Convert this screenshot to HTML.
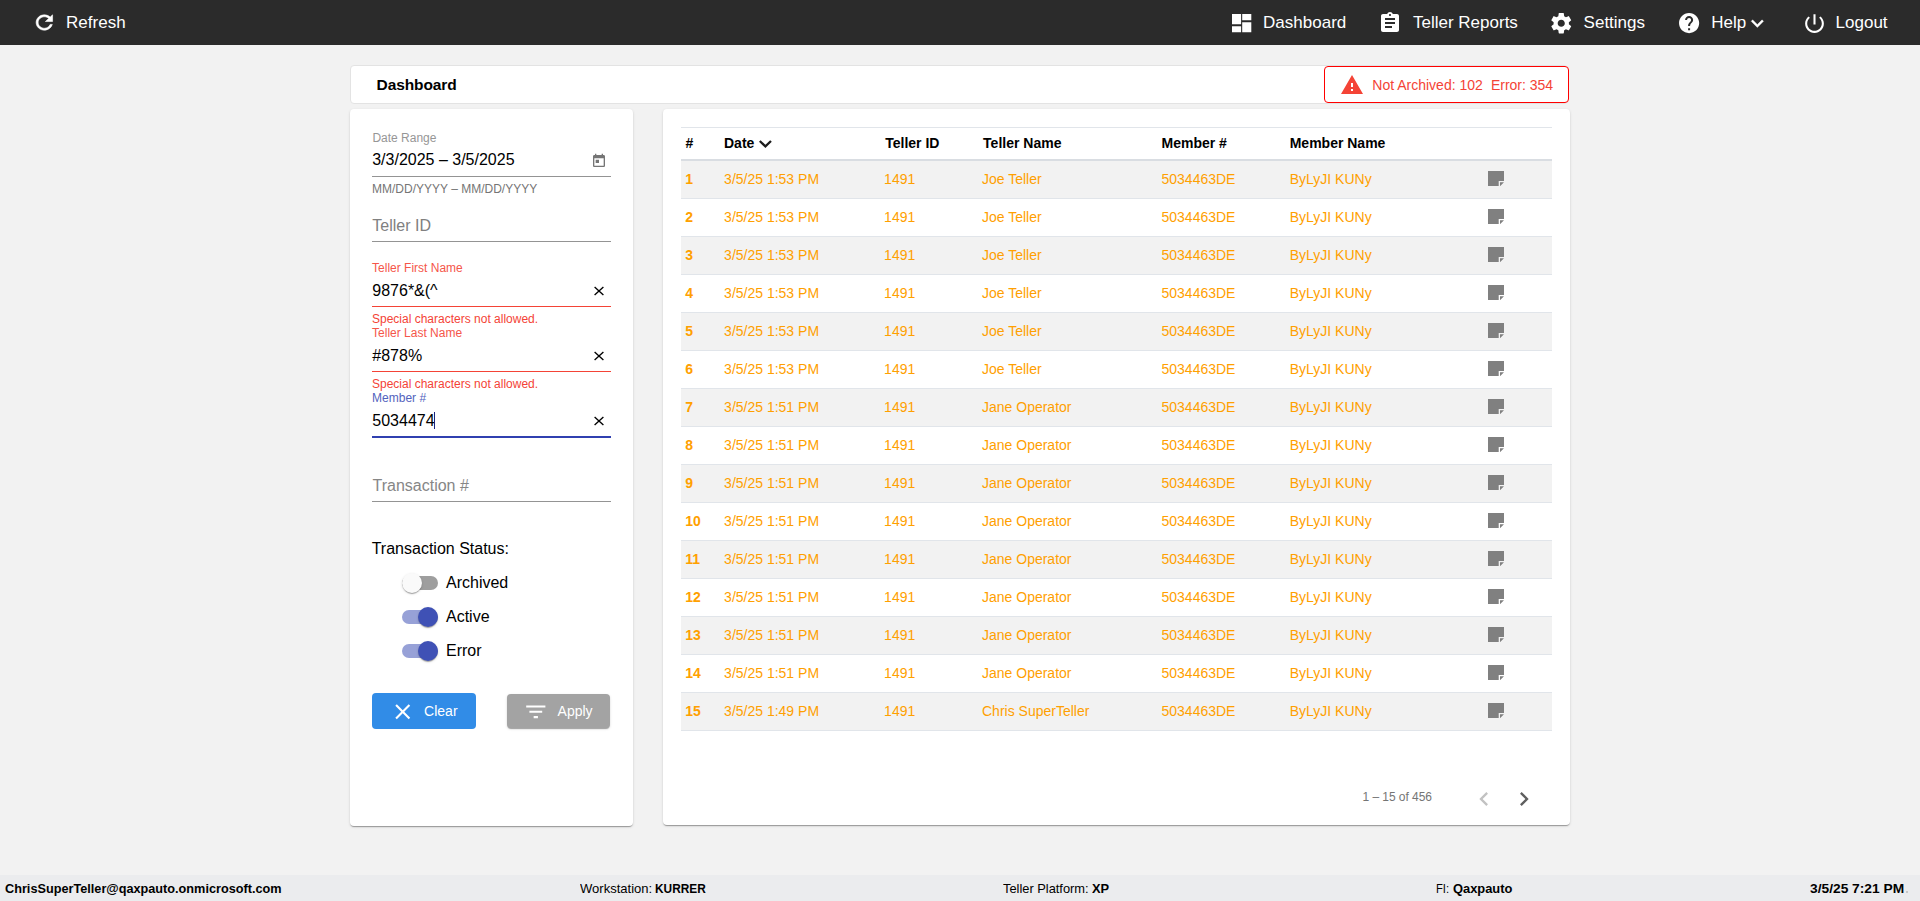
<!DOCTYPE html>
<html><head><meta charset="utf-8"><title>Dashboard</title>
<style>
html,body{margin:0;padding:0;}
body{width:1920px;height:901px;overflow:hidden;position:relative;background:#f2f2f2;font-family:"Liberation Sans", sans-serif;}
.t{position:absolute;white-space:pre;line-height:1;}
.i{position:absolute;display:block;}
.b{position:absolute;}
</style></head><body>
<div class="b" style="left:0;top:0;width:1920px;height:45px;background:#2b2b2b"></div>
<svg class="i" style="left:31.6px;top:11.15px;width:24.7px;height:23px" viewBox="0 0 24 24" preserveAspectRatio="none"><path fill="#fff" stroke="#fff" stroke-width="0.6" d="M17.65 6.35C16.2 4.9 14.21 4 12 4c-4.42 0-7.99 3.58-7.99 8s3.57 8 7.99 8c3.73 0 6.84-2.55 7.73-6h-2.08c-.82 2.33-3.04 4-5.65 4-3.31 0-6-2.69-6-6s2.69-6 6-6c1.66 0 3.14.69 4.22 1.78L13 11h7V4l-2.35 2.35z"/></svg>
<div class="t" style="left:66.10px;top:13.61px;font-size:17px;color:#ffffff;font-weight:400;">Refresh</div>
<svg class="i" style="left:1232px;top:13.7px;width:20px;height:19px" viewBox="0 0 20 19"><path fill="#fff" d="M0 0H9.1V10.3H0Z M0 12.2H9.1V18.3H0Z M10.2 0H19.3V6.2H10.2Z M10.2 8.2H19.3V18.3H10.2Z"/></svg>
<div class="t" style="left:1263.10px;top:13.61px;font-size:17px;color:#ffffff;font-weight:400;">Dashboard</div>
<svg class="i" style="left:1378.40px;top:10.70px;width:24.00px;height:24.00px;overflow:visible;" viewBox="0 0 24 24"><path fill="#ffffff" d="M19 3h-4.18C14.4 1.84 13.3 1 12 1c-1.3 0-2.4.84-2.82 2H5c-1.1 0-2 .9-2 2v14c0 1.1.9 2 2 2h14c1.1 0 2-.9 2-2V5c0-1.1-.9-2-2-2zm-7 0c.55 0 1 .45 1 1s-.45 1-1 1-1-.45-1-1 .45-1 1-1zm2 14H7v-2h7v2zm3-4H7v-2h10v2zm0-4H7V7h10v2z"/></svg>
<div class="t" style="left:1413.00px;top:13.61px;font-size:17px;color:#ffffff;font-weight:400;">Teller Reports</div>
<svg class="i" style="left:1549.20px;top:10.66px;width:24.50px;height:24.50px;overflow:visible;" viewBox="0 0 24 24"><path fill="#ffffff" d="M19.43 12.98c.04-.32.07-.64.07-.98s-.03-.66-.07-.98l2.11-1.65c.19-.15.24-.42.12-.64l-2-3.46c-.12-.22-.39-.3-.61-.22l-2.49 1c-.52-.4-1.08-.73-1.69-.98l-.38-2.65C14.460 2.18 14.25 2 14 2h-4c-.25 0-.46.18-.49.42l-.38 2.65c-.61.25-1.17.59-1.690.98l-2.49-1c-.23-.09-.49 0-.61.22l-2 3.46c-.13.22-.07.49.12.64l2.11 1.65c-.04.32-.07.65-.07.98s.03.66.07.98l-2.11 1.65c-.19.15-.24.42-.12.64l2 3.46c.12.22.39.3.61.22l2.49-1c.52.4 1.08.73 1.69.98l.38 2.65c.03.24.24.42.49.42h4c.25 0 .46-.18.49-.42l.38-2.65c.61-.25 1.17-.59 1.69-.98l2.49 1c.23.09.49 0 .61-.22l2-3.46c.12-.22.07-.49-.12-.64l-2.11-1.65zM12 15.5c-1.93 0-3.5-1.57-3.5-3.5s1.57-3.5 3.5-3.5 3.5 1.57 3.5 3.5-1.57 3.5-3.5 3.5z"/></svg>
<div class="t" style="left:1583.60px;top:13.61px;font-size:17px;color:#ffffff;font-weight:400;">Settings</div>
<svg class="i" style="left:1676.80px;top:10.90px;width:24.20px;height:24.20px;overflow:visible;" viewBox="0 0 24 24"><path fill="#ffffff" d="M12 2C6.48 2 2 6.48 2 12s4.48 10 10 10 10-4.48 10-10S17.52 2 12 2zm1 17h-2v-2h2v2zm2.07-7.75l-.9.92C13.45 12.9 13 13.5 13 15h-2v-.5c0-1.1.45-2.1 1.17-2.83l1.24-1.26c.37-.36.59-.86.59-1.41 0-1.1-.9-2-2-2s-2 .9-2 2H8c0-2.21 1.79-4 4-4s4 1.79 4 4c0 .88-.36 1.68-.93 2.25z"/></svg>
<div class="t" style="left:1711.30px;top:13.61px;font-size:17px;color:#ffffff;font-weight:400;">Help</div>
<svg class="i" style="left:1745.30px;top:11.00px;width:24.70px;height:24.70px;overflow:visible;" viewBox="0 0 24 24"><path fill="#ffffff" stroke="#ffffff" stroke-width="0.35" d="M16.59 8.59L12 13.17 7.41 8.59 6 10l6 6 6-6z"/></svg>
<svg class="i" style="left:1801.60px;top:10.60px;width:25.00px;height:25.00px;overflow:visible;" viewBox="0 0 24 24"><path fill="#ffffff" d="M13 3h-2v10h2V3zm4.83 2.17l-1.42 1.42C17.99 7.86 19 9.81 19 12c0 3.87-3.13 7-7 7s-7-3.13-7-7c0-2.19 1.01-4.140 2.58-5.42L6.17 5.17C4.23 6.82 3 9.26 3 12c0 4.97 4.03 9 9 9s9-4.03 9-9c0-2.74-1.23-5.18-3.17-6.83z"/></svg>
<div class="t" style="left:1835.60px;top:13.61px;font-size:17px;color:#ffffff;font-weight:400;">Logout</div>
<div class="b" style="left:350px;top:65px;width:1216px;height:37px;background:#fff;border:1px solid #e3e3e3;border-radius:4px"></div>
<div class="t" style="left:376.60px;top:77.28px;font-size:15.5px;color:#000;font-weight:700;letter-spacing:-0.1px;">Dashboard</div>
<div class="b" style="left:1324px;top:66px;width:243px;height:35px;background:#fff;border:1px solid #ff0000;border-radius:4px"></div>
<svg class="i" style="left:1340.00px;top:73.00px;width:24.00px;height:24.00px;overflow:visible;" viewBox="0 0 24 24"><path fill="#f44336" d="M1 21h22L12 2 1 21zm12-3h-2v-2h2v2zm0-4h-2v-4h2v4z"/></svg>
<div class="t" style="left:1372.30px;top:78.15px;font-size:14px;color:#f44336;font-weight:400;">Not Archived: 102</div>
<div class="t" style="left:1490.90px;top:78.15px;font-size:14px;color:#f44336;font-weight:400;">Error: 354</div>
<div class="b" style="left:350px;top:109px;width:283px;height:717px;background:#fff;border-radius:4px;box-shadow:0 2px 1px -1px rgba(0,0,0,.2),0 1px 1px 0 rgba(0,0,0,.14),0 1px 3px 0 rgba(0,0,0,.12)"></div>
<div class="b" style="left:663px;top:109px;width:907px;height:716px;background:#fff;border-radius:4px;box-shadow:0 2px 1px -1px rgba(0,0,0,.2),0 1px 1px 0 rgba(0,0,0,.14),0 1px 3px 0 rgba(0,0,0,.12)"></div>
<div class="t" style="left:372.40px;top:132.34px;font-size:12px;color:#969696;font-weight:400;">Date Range</div>
<div class="t" style="left:372.20px;top:152.26px;font-size:16px;color:#000;font-weight:400;">3/3/2025 – 3/5/2025</div>
<svg class="i" style="left:591.20px;top:152.90px;width:16.00px;height:16.00px;overflow:visible;" viewBox="0 0 24 24"><path fill="#757575" d="M19 3h-1V1h-2v2H8V1H6v2H5c-1.11 0-1.99.9-1.99 2L3 19c0 1.1.89 2 2 2h14c1.1 0 2-.9 2-2V5c0-1.1-.9-2-2-2zm0 16H5V8h14v11zM7 10h5v5H7z"/></svg>
<div class="b" style="left:372px;top:176px;width:239px;height:1px;background:#949494"></div>
<div class="t" style="left:372.00px;top:182.84px;font-size:12px;color:#757575;font-weight:400;">MM/DD/YYYY – MM/DD/YYYY</div>
<div class="t" style="left:372.30px;top:218.16px;font-size:16px;color:#808080;font-weight:400;">Teller ID</div>
<div class="b" style="left:372px;top:241px;width:239px;height:1px;background:#949494"></div>
<div class="t" style="left:372.10px;top:262.04px;font-size:12px;color:#f5564a;font-weight:400;">Teller First Name</div>
<div class="t" style="left:372.30px;top:283.16px;font-size:16px;color:#000;font-weight:400;">9876*&amp;(^</div>
<svg class="i" style="left:590.80px;top:282.90px;width:16px;height:16px" viewBox="0 0 16 16"><path d="M3.5999999999999996 4.0L12.4 12.0M12.4 4.0L3.5999999999999996 12.0" stroke="#000" stroke-width="1.35" fill="none"/></svg>
<div class="b" style="left:372px;top:306px;width:239px;height:1px;background:#f44336"></div>
<div class="t" style="left:372.00px;top:312.54px;font-size:12px;color:#f44336;font-weight:400;">Special characters not allowed.</div>
<div class="t" style="left:372.10px;top:327.04px;font-size:12px;color:#f5564a;font-weight:400;">Teller Last Name</div>
<div class="t" style="left:372.30px;top:348.26px;font-size:16px;color:#000;font-weight:400;">#878%</div>
<svg class="i" style="left:590.80px;top:347.90px;width:16px;height:16px" viewBox="0 0 16 16"><path d="M3.5999999999999996 4.0L12.4 12.0M12.4 4.0L3.5999999999999996 12.0" stroke="#000" stroke-width="1.35" fill="none"/></svg>
<div class="b" style="left:372px;top:371px;width:239px;height:1px;background:#f44336"></div>
<div class="t" style="left:372.00px;top:377.74px;font-size:12px;color:#f44336;font-weight:400;">Special characters not allowed.</div>
<div class="t" style="left:372.10px;top:392.34px;font-size:12px;color:#5363bd;font-weight:400;">Member #</div>
<div class="t" style="left:372.30px;top:413.26px;font-size:16px;color:#000;font-weight:400;">5034474</div>
<div class="b" style="left:434px;top:412px;width:1px;height:17px;background:#1a237e"></div>
<svg class="i" style="left:590.80px;top:413.10px;width:16px;height:16px" viewBox="0 0 16 16"><path d="M3.5999999999999996 4.0L12.4 12.0M12.4 4.0L3.5999999999999996 12.0" stroke="#000" stroke-width="1.35" fill="none"/></svg>
<div class="b" style="left:372px;top:436px;width:239px;height:2px;background:#3040b0"></div>
<div class="t" style="left:372.50px;top:478.46px;font-size:16px;color:#868686;font-weight:400;">Transaction #</div>
<div class="b" style="left:372px;top:501px;width:239px;height:1px;background:#949494"></div>
<div class="t" style="left:371.70px;top:540.56px;font-size:16px;color:#000;font-weight:400;">Transaction Status:</div>
<div class="b" style="left:402px;top:576px;width:36px;height:14px;border-radius:7px;background:rgba(0,0,0,.38)"></div>
<div class="b" style="left:402px;top:573px;width:20px;height:20px;border-radius:50%;background:#fafafa;box-shadow:0 2px 1px -1px rgba(0,0,0,.2),0 1px 1px 0 rgba(0,0,0,.14),0 1px 3px 0 rgba(0,0,0,.12)"></div>
<div class="t" style="left:446.00px;top:575.36px;font-size:16px;color:#000;font-weight:400;">Archived</div>
<div class="b" style="left:402px;top:610px;width:36px;height:14px;border-radius:7px;background:rgba(63,81,181,.54)"></div>
<div class="b" style="left:418px;top:607px;width:20px;height:20px;border-radius:50%;background:#3f51b5;box-shadow:0 2px 1px -1px rgba(0,0,0,.2),0 1px 1px 0 rgba(0,0,0,.14),0 1px 3px 0 rgba(0,0,0,.12)"></div>
<div class="t" style="left:446.00px;top:609.36px;font-size:16px;color:#000;font-weight:400;">Active</div>
<div class="b" style="left:402px;top:644px;width:36px;height:14px;border-radius:7px;background:rgba(63,81,181,.54)"></div>
<div class="b" style="left:418px;top:641px;width:20px;height:20px;border-radius:50%;background:#3f51b5;box-shadow:0 2px 1px -1px rgba(0,0,0,.2),0 1px 1px 0 rgba(0,0,0,.14),0 1px 3px 0 rgba(0,0,0,.12)"></div>
<div class="t" style="left:446.00px;top:643.36px;font-size:16px;color:#000;font-weight:400;">Error</div>
<div class="b" style="left:372px;top:693px;width:104px;height:36px;background:#318ce7;border-radius:4px"></div>
<svg class="i" style="left:390.00px;top:699.00px;width:25.50px;height:25.50px;overflow:visible;" viewBox="0 0 24 24"><path fill="#fff" d="M19 6.41L17.59 5 12 10.59 6.41 5 5 6.41 10.59 12 5 17.59 6.41 19 12 13.41 17.59 19 19 17.59 13.41 12z"/></svg>
<div class="t" style="left:424.10px;top:704.15px;font-size:14px;color:#fff;font-weight:400;">Clear</div>
<div class="b" style="left:507px;top:694px;width:103px;height:34px;background:#a3a3a3;border-radius:4px;box-shadow:0 2px 1px -1px rgba(0,0,0,.2),0 1px 1px 0 rgba(0,0,0,.14),0 1px 3px 0 rgba(0,0,0,.12)"></div>
<svg class="i" style="left:522.80px;top:698.90px;width:25.60px;height:25.60px;overflow:visible;" viewBox="0 0 24 24"><path fill="#fff" d="M10 18h4v-2h-4v2zM3 6v2h18V6H3zm3 7h12v-2H6v2z"/></svg>
<div class="t" style="left:557.60px;top:704.15px;font-size:14px;color:#fff;font-weight:400;">Apply</div>
<div class="b" style="left:681px;top:127px;width:871px;height:1px;background:#e1e5ea"></div>
<div class="t" style="left:685.40px;top:136.15px;font-size:14px;color:#000;font-weight:700;">#</div>
<div class="t" style="left:724.00px;top:136.15px;font-size:14px;color:#000;font-weight:700;">Date</div>
<svg class="i" style="left:757px;top:136px;width:17px;height:16px" viewBox="0 0 17 16"><path d="M2.8 5.0 L8.4 10.4 L14.0 5.0" fill="none" stroke="#1c1c1c" stroke-width="2.3"/></svg>
<div class="t" style="left:885.20px;top:136.15px;font-size:14px;color:#000;font-weight:700;">Teller ID</div>
<div class="t" style="left:983.10px;top:136.15px;font-size:14px;color:#000;font-weight:700;">Teller Name</div>
<div class="t" style="left:1161.50px;top:136.15px;font-size:14px;color:#000;font-weight:700;">Member #</div>
<div class="t" style="left:1289.70px;top:136.15px;font-size:14px;color:#000;font-weight:700;">Member Name</div>
<div class="b" style="left:681px;top:159px;width:871px;height:2px;background:#d9dde2"></div>
<div class="b" style="left:681px;top:161px;width:871px;height:37px;background:#f2f2f2;border-bottom:1px solid #e1e5ea"></div>
<div class="t" style="left:685.20px;top:172.15px;font-size:14px;color:#ffa000;font-weight:700;">1</div>
<div class="t" style="left:724.10px;top:172.15px;font-size:14px;color:#ffa000;font-weight:400;">3/5/25 1:53 PM</div>
<div class="t" style="left:884.10px;top:172.15px;font-size:14px;color:#ffa000;font-weight:400;">1491</div>
<div class="t" style="left:982.00px;top:172.15px;font-size:14px;color:#ffa000;font-weight:400;">Joe Teller</div>
<div class="t" style="left:1161.50px;top:172.15px;font-size:14px;color:#ffa000;font-weight:400;">5034463DE</div>
<div class="t" style="left:1289.70px;top:172.15px;font-size:14px;color:#ffa000;font-weight:400;">ByLyJI KUNy</div>
<svg class="i" style="left:1488px;top:171px;width:16px;height:15px" viewBox="0 0 16 15"><path fill="#808080" d="M0 0H16V10H10.7V15H0Z M12 11.2H16L12 15.2Z"/></svg>
<div class="b" style="left:681px;top:199px;width:871px;height:37px;background:#ffffff;border-bottom:1px solid #e1e5ea"></div>
<div class="t" style="left:685.20px;top:210.15px;font-size:14px;color:#ffa000;font-weight:700;">2</div>
<div class="t" style="left:724.10px;top:210.15px;font-size:14px;color:#ffa000;font-weight:400;">3/5/25 1:53 PM</div>
<div class="t" style="left:884.10px;top:210.15px;font-size:14px;color:#ffa000;font-weight:400;">1491</div>
<div class="t" style="left:982.00px;top:210.15px;font-size:14px;color:#ffa000;font-weight:400;">Joe Teller</div>
<div class="t" style="left:1161.50px;top:210.15px;font-size:14px;color:#ffa000;font-weight:400;">5034463DE</div>
<div class="t" style="left:1289.70px;top:210.15px;font-size:14px;color:#ffa000;font-weight:400;">ByLyJI KUNy</div>
<svg class="i" style="left:1488px;top:209px;width:16px;height:15px" viewBox="0 0 16 15"><path fill="#808080" d="M0 0H16V10H10.7V15H0Z M12 11.2H16L12 15.2Z"/></svg>
<div class="b" style="left:681px;top:237px;width:871px;height:37px;background:#f2f2f2;border-bottom:1px solid #e1e5ea"></div>
<div class="t" style="left:685.20px;top:248.15px;font-size:14px;color:#ffa000;font-weight:700;">3</div>
<div class="t" style="left:724.10px;top:248.15px;font-size:14px;color:#ffa000;font-weight:400;">3/5/25 1:53 PM</div>
<div class="t" style="left:884.10px;top:248.15px;font-size:14px;color:#ffa000;font-weight:400;">1491</div>
<div class="t" style="left:982.00px;top:248.15px;font-size:14px;color:#ffa000;font-weight:400;">Joe Teller</div>
<div class="t" style="left:1161.50px;top:248.15px;font-size:14px;color:#ffa000;font-weight:400;">5034463DE</div>
<div class="t" style="left:1289.70px;top:248.15px;font-size:14px;color:#ffa000;font-weight:400;">ByLyJI KUNy</div>
<svg class="i" style="left:1488px;top:247px;width:16px;height:15px" viewBox="0 0 16 15"><path fill="#808080" d="M0 0H16V10H10.7V15H0Z M12 11.2H16L12 15.2Z"/></svg>
<div class="b" style="left:681px;top:275px;width:871px;height:37px;background:#ffffff;border-bottom:1px solid #e1e5ea"></div>
<div class="t" style="left:685.20px;top:286.15px;font-size:14px;color:#ffa000;font-weight:700;">4</div>
<div class="t" style="left:724.10px;top:286.15px;font-size:14px;color:#ffa000;font-weight:400;">3/5/25 1:53 PM</div>
<div class="t" style="left:884.10px;top:286.15px;font-size:14px;color:#ffa000;font-weight:400;">1491</div>
<div class="t" style="left:982.00px;top:286.15px;font-size:14px;color:#ffa000;font-weight:400;">Joe Teller</div>
<div class="t" style="left:1161.50px;top:286.15px;font-size:14px;color:#ffa000;font-weight:400;">5034463DE</div>
<div class="t" style="left:1289.70px;top:286.15px;font-size:14px;color:#ffa000;font-weight:400;">ByLyJI KUNy</div>
<svg class="i" style="left:1488px;top:285px;width:16px;height:15px" viewBox="0 0 16 15"><path fill="#808080" d="M0 0H16V10H10.7V15H0Z M12 11.2H16L12 15.2Z"/></svg>
<div class="b" style="left:681px;top:313px;width:871px;height:37px;background:#f2f2f2;border-bottom:1px solid #e1e5ea"></div>
<div class="t" style="left:685.20px;top:324.15px;font-size:14px;color:#ffa000;font-weight:700;">5</div>
<div class="t" style="left:724.10px;top:324.15px;font-size:14px;color:#ffa000;font-weight:400;">3/5/25 1:53 PM</div>
<div class="t" style="left:884.10px;top:324.15px;font-size:14px;color:#ffa000;font-weight:400;">1491</div>
<div class="t" style="left:982.00px;top:324.15px;font-size:14px;color:#ffa000;font-weight:400;">Joe Teller</div>
<div class="t" style="left:1161.50px;top:324.15px;font-size:14px;color:#ffa000;font-weight:400;">5034463DE</div>
<div class="t" style="left:1289.70px;top:324.15px;font-size:14px;color:#ffa000;font-weight:400;">ByLyJI KUNy</div>
<svg class="i" style="left:1488px;top:323px;width:16px;height:15px" viewBox="0 0 16 15"><path fill="#808080" d="M0 0H16V10H10.7V15H0Z M12 11.2H16L12 15.2Z"/></svg>
<div class="b" style="left:681px;top:351px;width:871px;height:37px;background:#ffffff;border-bottom:1px solid #e1e5ea"></div>
<div class="t" style="left:685.20px;top:362.15px;font-size:14px;color:#ffa000;font-weight:700;">6</div>
<div class="t" style="left:724.10px;top:362.15px;font-size:14px;color:#ffa000;font-weight:400;">3/5/25 1:53 PM</div>
<div class="t" style="left:884.10px;top:362.15px;font-size:14px;color:#ffa000;font-weight:400;">1491</div>
<div class="t" style="left:982.00px;top:362.15px;font-size:14px;color:#ffa000;font-weight:400;">Joe Teller</div>
<div class="t" style="left:1161.50px;top:362.15px;font-size:14px;color:#ffa000;font-weight:400;">5034463DE</div>
<div class="t" style="left:1289.70px;top:362.15px;font-size:14px;color:#ffa000;font-weight:400;">ByLyJI KUNy</div>
<svg class="i" style="left:1488px;top:361px;width:16px;height:15px" viewBox="0 0 16 15"><path fill="#808080" d="M0 0H16V10H10.7V15H0Z M12 11.2H16L12 15.2Z"/></svg>
<div class="b" style="left:681px;top:389px;width:871px;height:37px;background:#f2f2f2;border-bottom:1px solid #e1e5ea"></div>
<div class="t" style="left:685.20px;top:400.15px;font-size:14px;color:#ffa000;font-weight:700;">7</div>
<div class="t" style="left:724.10px;top:400.15px;font-size:14px;color:#ffa000;font-weight:400;">3/5/25 1:51 PM</div>
<div class="t" style="left:884.10px;top:400.15px;font-size:14px;color:#ffa000;font-weight:400;">1491</div>
<div class="t" style="left:982.00px;top:400.15px;font-size:14px;color:#ffa000;font-weight:400;">Jane Operator</div>
<div class="t" style="left:1161.50px;top:400.15px;font-size:14px;color:#ffa000;font-weight:400;">5034463DE</div>
<div class="t" style="left:1289.70px;top:400.15px;font-size:14px;color:#ffa000;font-weight:400;">ByLyJI KUNy</div>
<svg class="i" style="left:1488px;top:399px;width:16px;height:15px" viewBox="0 0 16 15"><path fill="#808080" d="M0 0H16V10H10.7V15H0Z M12 11.2H16L12 15.2Z"/></svg>
<div class="b" style="left:681px;top:427px;width:871px;height:37px;background:#ffffff;border-bottom:1px solid #e1e5ea"></div>
<div class="t" style="left:685.20px;top:438.15px;font-size:14px;color:#ffa000;font-weight:700;">8</div>
<div class="t" style="left:724.10px;top:438.15px;font-size:14px;color:#ffa000;font-weight:400;">3/5/25 1:51 PM</div>
<div class="t" style="left:884.10px;top:438.15px;font-size:14px;color:#ffa000;font-weight:400;">1491</div>
<div class="t" style="left:982.00px;top:438.15px;font-size:14px;color:#ffa000;font-weight:400;">Jane Operator</div>
<div class="t" style="left:1161.50px;top:438.15px;font-size:14px;color:#ffa000;font-weight:400;">5034463DE</div>
<div class="t" style="left:1289.70px;top:438.15px;font-size:14px;color:#ffa000;font-weight:400;">ByLyJI KUNy</div>
<svg class="i" style="left:1488px;top:437px;width:16px;height:15px" viewBox="0 0 16 15"><path fill="#808080" d="M0 0H16V10H10.7V15H0Z M12 11.2H16L12 15.2Z"/></svg>
<div class="b" style="left:681px;top:465px;width:871px;height:37px;background:#f2f2f2;border-bottom:1px solid #e1e5ea"></div>
<div class="t" style="left:685.20px;top:476.15px;font-size:14px;color:#ffa000;font-weight:700;">9</div>
<div class="t" style="left:724.10px;top:476.15px;font-size:14px;color:#ffa000;font-weight:400;">3/5/25 1:51 PM</div>
<div class="t" style="left:884.10px;top:476.15px;font-size:14px;color:#ffa000;font-weight:400;">1491</div>
<div class="t" style="left:982.00px;top:476.15px;font-size:14px;color:#ffa000;font-weight:400;">Jane Operator</div>
<div class="t" style="left:1161.50px;top:476.15px;font-size:14px;color:#ffa000;font-weight:400;">5034463DE</div>
<div class="t" style="left:1289.70px;top:476.15px;font-size:14px;color:#ffa000;font-weight:400;">ByLyJI KUNy</div>
<svg class="i" style="left:1488px;top:475px;width:16px;height:15px" viewBox="0 0 16 15"><path fill="#808080" d="M0 0H16V10H10.7V15H0Z M12 11.2H16L12 15.2Z"/></svg>
<div class="b" style="left:681px;top:503px;width:871px;height:37px;background:#ffffff;border-bottom:1px solid #e1e5ea"></div>
<div class="t" style="left:685.20px;top:514.15px;font-size:14px;color:#ffa000;font-weight:700;">10</div>
<div class="t" style="left:724.10px;top:514.15px;font-size:14px;color:#ffa000;font-weight:400;">3/5/25 1:51 PM</div>
<div class="t" style="left:884.10px;top:514.15px;font-size:14px;color:#ffa000;font-weight:400;">1491</div>
<div class="t" style="left:982.00px;top:514.15px;font-size:14px;color:#ffa000;font-weight:400;">Jane Operator</div>
<div class="t" style="left:1161.50px;top:514.15px;font-size:14px;color:#ffa000;font-weight:400;">5034463DE</div>
<div class="t" style="left:1289.70px;top:514.15px;font-size:14px;color:#ffa000;font-weight:400;">ByLyJI KUNy</div>
<svg class="i" style="left:1488px;top:513px;width:16px;height:15px" viewBox="0 0 16 15"><path fill="#808080" d="M0 0H16V10H10.7V15H0Z M12 11.2H16L12 15.2Z"/></svg>
<div class="b" style="left:681px;top:541px;width:871px;height:37px;background:#f2f2f2;border-bottom:1px solid #e1e5ea"></div>
<div class="t" style="left:685.20px;top:552.15px;font-size:14px;color:#ffa000;font-weight:700;">11</div>
<div class="t" style="left:724.10px;top:552.15px;font-size:14px;color:#ffa000;font-weight:400;">3/5/25 1:51 PM</div>
<div class="t" style="left:884.10px;top:552.15px;font-size:14px;color:#ffa000;font-weight:400;">1491</div>
<div class="t" style="left:982.00px;top:552.15px;font-size:14px;color:#ffa000;font-weight:400;">Jane Operator</div>
<div class="t" style="left:1161.50px;top:552.15px;font-size:14px;color:#ffa000;font-weight:400;">5034463DE</div>
<div class="t" style="left:1289.70px;top:552.15px;font-size:14px;color:#ffa000;font-weight:400;">ByLyJI KUNy</div>
<svg class="i" style="left:1488px;top:551px;width:16px;height:15px" viewBox="0 0 16 15"><path fill="#808080" d="M0 0H16V10H10.7V15H0Z M12 11.2H16L12 15.2Z"/></svg>
<div class="b" style="left:681px;top:579px;width:871px;height:37px;background:#ffffff;border-bottom:1px solid #e1e5ea"></div>
<div class="t" style="left:685.20px;top:590.15px;font-size:14px;color:#ffa000;font-weight:700;">12</div>
<div class="t" style="left:724.10px;top:590.15px;font-size:14px;color:#ffa000;font-weight:400;">3/5/25 1:51 PM</div>
<div class="t" style="left:884.10px;top:590.15px;font-size:14px;color:#ffa000;font-weight:400;">1491</div>
<div class="t" style="left:982.00px;top:590.15px;font-size:14px;color:#ffa000;font-weight:400;">Jane Operator</div>
<div class="t" style="left:1161.50px;top:590.15px;font-size:14px;color:#ffa000;font-weight:400;">5034463DE</div>
<div class="t" style="left:1289.70px;top:590.15px;font-size:14px;color:#ffa000;font-weight:400;">ByLyJI KUNy</div>
<svg class="i" style="left:1488px;top:589px;width:16px;height:15px" viewBox="0 0 16 15"><path fill="#808080" d="M0 0H16V10H10.7V15H0Z M12 11.2H16L12 15.2Z"/></svg>
<div class="b" style="left:681px;top:617px;width:871px;height:37px;background:#f2f2f2;border-bottom:1px solid #e1e5ea"></div>
<div class="t" style="left:685.20px;top:628.15px;font-size:14px;color:#ffa000;font-weight:700;">13</div>
<div class="t" style="left:724.10px;top:628.15px;font-size:14px;color:#ffa000;font-weight:400;">3/5/25 1:51 PM</div>
<div class="t" style="left:884.10px;top:628.15px;font-size:14px;color:#ffa000;font-weight:400;">1491</div>
<div class="t" style="left:982.00px;top:628.15px;font-size:14px;color:#ffa000;font-weight:400;">Jane Operator</div>
<div class="t" style="left:1161.50px;top:628.15px;font-size:14px;color:#ffa000;font-weight:400;">5034463DE</div>
<div class="t" style="left:1289.70px;top:628.15px;font-size:14px;color:#ffa000;font-weight:400;">ByLyJI KUNy</div>
<svg class="i" style="left:1488px;top:627px;width:16px;height:15px" viewBox="0 0 16 15"><path fill="#808080" d="M0 0H16V10H10.7V15H0Z M12 11.2H16L12 15.2Z"/></svg>
<div class="b" style="left:681px;top:655px;width:871px;height:37px;background:#ffffff;border-bottom:1px solid #e1e5ea"></div>
<div class="t" style="left:685.20px;top:666.15px;font-size:14px;color:#ffa000;font-weight:700;">14</div>
<div class="t" style="left:724.10px;top:666.15px;font-size:14px;color:#ffa000;font-weight:400;">3/5/25 1:51 PM</div>
<div class="t" style="left:884.10px;top:666.15px;font-size:14px;color:#ffa000;font-weight:400;">1491</div>
<div class="t" style="left:982.00px;top:666.15px;font-size:14px;color:#ffa000;font-weight:400;">Jane Operator</div>
<div class="t" style="left:1161.50px;top:666.15px;font-size:14px;color:#ffa000;font-weight:400;">5034463DE</div>
<div class="t" style="left:1289.70px;top:666.15px;font-size:14px;color:#ffa000;font-weight:400;">ByLyJI KUNy</div>
<svg class="i" style="left:1488px;top:665px;width:16px;height:15px" viewBox="0 0 16 15"><path fill="#808080" d="M0 0H16V10H10.7V15H0Z M12 11.2H16L12 15.2Z"/></svg>
<div class="b" style="left:681px;top:693px;width:871px;height:37px;background:#f2f2f2;border-bottom:1px solid #e1e5ea"></div>
<div class="t" style="left:685.20px;top:704.15px;font-size:14px;color:#ffa000;font-weight:700;">15</div>
<div class="t" style="left:724.10px;top:704.15px;font-size:14px;color:#ffa000;font-weight:400;">3/5/25 1:49 PM</div>
<div class="t" style="left:884.10px;top:704.15px;font-size:14px;color:#ffa000;font-weight:400;">1491</div>
<div class="t" style="left:982.00px;top:704.15px;font-size:14px;color:#ffa000;font-weight:400;">Chris SuperTeller</div>
<div class="t" style="left:1161.50px;top:704.15px;font-size:14px;color:#ffa000;font-weight:400;">5034463DE</div>
<div class="t" style="left:1289.70px;top:704.15px;font-size:14px;color:#ffa000;font-weight:400;">ByLyJI KUNy</div>
<svg class="i" style="left:1488px;top:703px;width:16px;height:15px" viewBox="0 0 16 15"><path fill="#808080" d="M0 0H16V10H10.7V15H0Z M12 11.2H16L12 15.2Z"/></svg>
<div class="t" style="left:1362.50px;top:790.64px;font-size:12px;color:#757575;font-weight:400;letter-spacing:-0.05px;">1 – 15 of 456</div>
<svg class="i" style="left:1470.40px;top:785.00px;width:28.00px;height:28.00px;overflow:visible;" viewBox="0 0 24 24"><path fill="#c2c2c2" d="M15.41 7.41L14 6l-6 6 6 6 1.41-1.41L10.83 12z"/></svg>
<svg class="i" style="left:1510.00px;top:785.00px;width:28.00px;height:28.00px;overflow:visible;" viewBox="0 0 24 24"><path fill="#5f5f5f" d="M10 6L8.59 7.41 13.17 12l-4.58 4.59L10 18l6-6z"/></svg>
<div class="b" style="left:0;top:875px;width:1920px;height:26px;background:#ebecee"></div>
<div class="t" style="left:4.80px;top:882.07px;font-size:13.5px;color:#000;font-weight:700;transform:scaleX(0.94);transform-origin:0 0;">ChrisSuperTeller@qaxpauto.onmicrosoft.com</div>
<div class="t" style="left:580.00px;top:882.07px;font-size:13.5px;color:#000;font-weight:400;transform:scaleX(0.966);transform-origin:0 0;">Workstation:</div>
<div class="t" style="left:655.00px;top:882.07px;font-size:13.5px;color:#000;font-weight:700;transform:scaleX(0.879);transform-origin:0 0;">KURRER</div>
<div class="t" style="left:1002.90px;top:882.07px;font-size:13.5px;color:#000;font-weight:400;transform:scaleX(0.951);transform-origin:0 0;">Teller Platform:</div>
<div class="t" style="left:1091.90px;top:882.07px;font-size:13.5px;color:#000;font-weight:700;transform:scaleX(0.951);transform-origin:0 0;">XP</div>
<div class="t" style="left:1436.40px;top:882.07px;font-size:13.5px;color:#000;font-weight:400;transform:scaleX(0.83);transform-origin:0 0;">FI:</div>
<div class="t" style="left:1453.10px;top:882.07px;font-size:13.5px;color:#000;font-weight:700;transform:scaleX(0.954);transform-origin:0 0;">Qaxpauto</div>
<div class="t" style="left:1810.30px;top:882.07px;font-size:13.5px;color:#000;font-weight:700;transform:scaleX(1.02);transform-origin:0 0;">3/5/25 7:21 PM</div>
<div class="b" style="left:1906px;top:891px;width:2px;height:2px;background:#c8c8c8"></div>
</body></html>
